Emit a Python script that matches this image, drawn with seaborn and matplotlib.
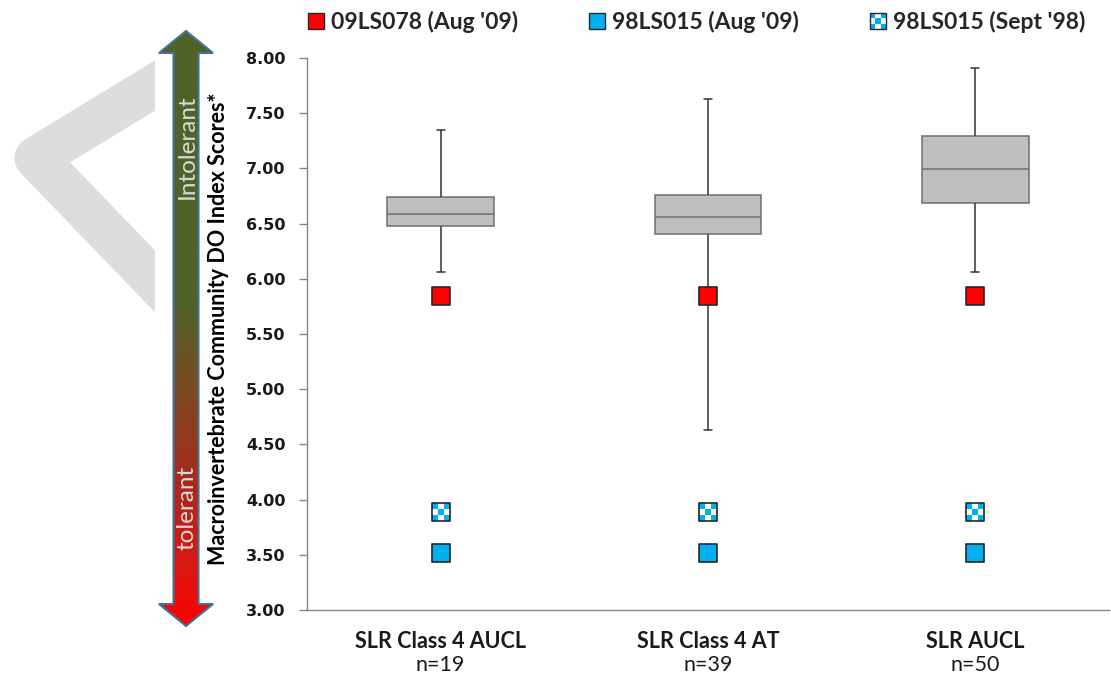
import numpy as np
import pandas as pd
import matplotlib
matplotlib.use("Agg")
import matplotlib.pyplot as plt
import seaborn as sns
from matplotlib.path import Path
from matplotlib.markers import MarkerStyle
from matplotlib.patches import Polygon, Rectangle
from matplotlib.lines import Line2D
from matplotlib.legend_handler import HandlerTuple
from matplotlib.colors import LinearSegmentedColormap

# Box summaries (min whisker, Q1, median, Q3, max whisker)
categories = ["SLR Class 4 AUCL", "SLR Class 4 AT", "SLR AUCL"]
n_counts = [19, 39, 50]
whisker_low = [6.06, 4.63, 6.06]
q1 = [6.48, 6.41, 6.69]
median = [6.59, 6.56, 6.99]
q3 = [6.74, 6.76, 7.29]
whisker_high = [7.35, 7.63, 7.91]

# Site scores plotted against each reference group
site_09LS078_aug09 = [5.84, 5.84, 5.84]
site_98LS015_aug09 = [3.52, 3.52, 3.52]
site_98LS015_sep98 = [3.89, 3.89, 3.89]

y_ticks = [3.0, 3.5, 4.0, 4.5, 5.0, 5.5, 6.0, 6.5, 7.0, 7.5, 8.0]

RED = "#FF0000"
BLUE = "#00B0F0"
EDGE = "#262626"

sns.set_theme(style="white")
plt.rcParams["font.family"] = ["Lato", "DejaVu Sans"]

fig = plt.figure(figsize=(11.11, 6.79), dpi=100)

# ---- decoration layer in pixel coordinates (watermark chevron + gradient arrow)
deco = fig.add_axes([0, 0, 1, 1], zorder=0)
deco.set_xlim(0, 1111)
deco.set_ylim(679, 0)
deco.axis("off")

chev, = deco.plot([200, 36, 200], [58, 158, 328], color="#DDDDDD", lw=31,
                  solid_joinstyle="round", solid_capstyle="butt")
chev.set_clip_path(Rectangle((0, 0), 155, 679, transform=deco.transData))

cx, top, bot = 186, 31, 626
hw_head, hw_shaft, head_len = 27, 12.5, 22
arrow_pts = [(cx, top), (cx + hw_head, top + head_len), (cx + hw_shaft, top + head_len),
             (cx + hw_shaft, bot - head_len), (cx + hw_head, bot - head_len), (cx, bot),
             (cx - hw_head, bot - head_len), (cx - hw_shaft, bot - head_len),
             (cx - hw_shaft, top + head_len), (cx - hw_head, top + head_len)]
arrow = Polygon(arrow_pts, closed=True, facecolor="none", edgecolor="#41719C", lw=1.5, zorder=3)
deco.add_patch(arrow)
stops = [(0.0, "#4F6228"), (0.45, "#4F6228"), (0.60, "#7A4A22"),
         (0.76, "#A82A1A"), (0.90, "#D81812"), (1.0, "#FF0000")]
cmap = LinearSegmentedColormap.from_list("tol", stops)
grad = np.linspace(0, 1, 400).reshape(-1, 1)
im = deco.imshow(grad, cmap=cmap, aspect="auto", origin="upper",
                 extent=(cx - 30, cx + 30, bot, top), zorder=2)
im.set_clip_path(arrow)
deco.set_xlim(0, 1111)
deco.set_ylim(679, 0)
deco.text(cx + 1, 147, "Intolerant", rotation=90, ha="center", va="center",
          color="#D9D9D9", fontsize=17.5, zorder=4)
deco.text(cx + 1, 508, "tolerant", rotation=90, ha="center", va="center",
          color="#D9D9D9", fontsize=17.5, zorder=4)

# ---- main chart
ax = fig.add_axes([0.2763, 0.1016, 0.7219, 0.8130], zorder=1)
ax.patch.set_alpha(0)

box_rows = []
for cat, a, b, c, d, e in zip(categories, whisker_low, q1, median, q3, whisker_high):
    for v in (a, b, c, d, e):
        box_rows.append({"group": cat, "score": v})
box_df = pd.DataFrame(box_rows)

sns.boxplot(data=box_df, x="group", y="score", order=categories, whis=(0, 100),
            width=0.4, color="#BFBFBF", linecolor="#6F6F6F", linewidth=1.1,
            saturation=1, showfliers=False,
            whiskerprops=dict(color="#333333"), capprops=dict(color="#333333"), ax=ax)

for cont in ax.containers:
    if hasattr(cont, "caps"):
        for cap in cont.caps:
            xd = np.asarray(cap.get_xdata(), dtype=float)
            c = xd.mean()
            cap.set_xdata([c - 0.015, c + 0.015])

ms = 168
sns.scatterplot(x=categories, y=site_09LS078_aug09, marker="s", s=ms, color=RED,
                edgecolor=EDGE, linewidth=1.2, zorder=5, legend=False, ax=ax)
sns.scatterplot(x=categories, y=site_98LS015_aug09, marker="s", s=ms, color=BLUE,
                edgecolor=EDGE, linewidth=1.2, zorder=5, legend=False, ax=ax)

# checkered marker: white square, blue checker cells, then outline
cells = [(0, 0), (2, 0), (1, 1), (0, 2), (2, 2)]
verts, codes = [], []
for i, j in cells:
    x0, y0 = -0.5 + i / 3, -0.5 + j / 3
    x1, y1 = x0 + 1 / 3, y0 + 1 / 3
    verts += [(x0, y0), (x1, y0), (x1, y1), (x0, y1), (x0, y0)]
    codes += [Path.MOVETO, Path.LINETO, Path.LINETO, Path.LINETO, Path.CLOSEPOLY]
checker = MarkerStyle(Path(verts, codes))

sns.scatterplot(x=categories, y=site_98LS015_sep98, marker="s", s=ms, color="white",
                linewidth=0, zorder=5, legend=False, ax=ax)
sns.scatterplot(x=categories, y=site_98LS015_sep98, marker=checker, s=ms, color=BLUE,
                linewidth=0, zorder=6, legend=False, ax=ax)
sns.scatterplot(x=categories, y=site_98LS015_sep98, marker="s", s=ms, facecolor="none",
                edgecolor=EDGE, linewidth=1.2, zorder=7, legend=False, ax=ax)

ax.set_xlim(-0.5, 2.5)
ax.set_ylim(3, 8)
ax.set_yticks(y_ticks)
ax.set_yticklabels([f"{t:.2f}" for t in y_ticks], fontfamily="DejaVu Sans",
                   fontweight="bold", fontsize=11.5, color="#1A1A1A")
ax.set_xticks(range(len(categories)))
ax.set_xticklabels(categories, fontweight="bold", fontsize=15.5, color="#1A1A1A")
ax.set_xticks([-0.5, 0.5, 1.5, 2.5], minor=True)
ax.tick_params(axis="x", which="major", length=0, pad=15)
ax.tick_params(axis="x", which="minor", length=7, width=1, color="#868686", direction="out")
ax.tick_params(axis="y", length=6, width=1, color="#868686", direction="out", pad=9.5, left=True)
ax.set_xlabel("")
ax.set_ylabel("Macroinvertebrate Community DO Index Scores*", fontweight="bold",
              fontsize=15.5, color="black")
ax.yaxis.set_label_coords(-0.0975, 0.51)

for i, n in enumerate(n_counts):
    ax.text(i, -0.1, f"n={n}", transform=ax.get_xaxis_transform(), ha="center",
            va="center", fontsize=15.5, color="#1A1A1A")

for side in ("top", "right"):
    ax.spines[side].set_visible(False)
for side in ("left", "bottom"):
    ax.spines[side].set_color("#868686")
    ax.spines[side].set_linewidth(1)
ax.grid(False)

# legend
h_red = Line2D([], [], marker="s", ls="none", markersize=11, markerfacecolor=RED,
               markeredgecolor=EDGE, markeredgewidth=1)
h_blue = Line2D([], [], marker="s", ls="none", markersize=11, markerfacecolor=BLUE,
                markeredgecolor=EDGE, markeredgewidth=1)
h_w = Line2D([], [], marker="s", ls="none", markersize=11, markerfacecolor="white",
             markeredgewidth=0)
h_ch = Line2D([], [], marker=checker, ls="none", markersize=11, markerfacecolor=BLUE,
              markeredgewidth=0)
h_out = Line2D([], [], marker="s", ls="none", markersize=11, markerfacecolor="none",
               markeredgecolor=EDGE, markeredgewidth=1)
fig.legend([h_red, h_blue, (h_w, h_ch, h_out)],
           ["09LS078 (Aug '09)", "98LS015 (Aug '09)", "98LS015 (Sept '98)"],
           handler_map={tuple: HandlerTuple(ndivide=1)},
           loc="center", bbox_to_anchor=(0.6255, 0.9676), ncol=3, frameon=False,
           prop={"family": "Lato", "weight": "bold", "size": 16.5},
           handlelength=1.0, handletextpad=0.15, columnspacing=2.95, borderpad=0)

fig.savefig("out.png", dpi=100)
